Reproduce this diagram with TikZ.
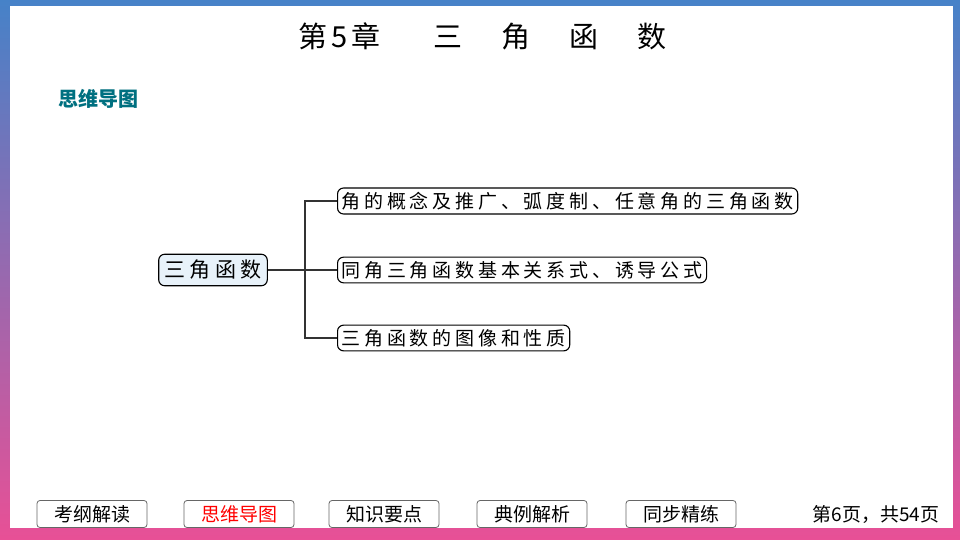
\documentclass[tikz,border=0pt]{standalone}
\usepackage{fontspec}
\setmainfont{Noto Sans CJK SC}
\newfontfamily\spaced[LetterSpace=20]{Noto Sans CJK SC}
\usetikzlibrary{positioning}

\definecolor{tealhead}{RGB}{0,112,128}
\definecolor{rootfill}{RGB}{232,242,250}
\definecolor{barblue}{RGB}{70,130,200}
\definecolor{barpink}{RGB}{232,80,150}

\tikzset{
  topic/.style={draw,line width=1.1pt,rounded corners=6pt,inner sep=4pt,font=\spaced\fontsize{19}{19}\selectfont},
  root/.style={topic,fill=rootfill,inner sep=6pt,font=\spaced\fontsize{21}{21}\selectfont},
  tab/.style={draw=gray!80!black,thick,rounded corners=3pt,minimum width=110pt,minimum height=27pt,inner sep=0pt,font=\fontsize{19}{19}\selectfont},
  branch/.style={line width=1.3pt,draw=black!80}
}

\begin{document}
\begin{tikzpicture}[x=1pt,y=-1pt]
  % frame
  \shade[top color=barblue,bottom color=barpink] (0,0) rectangle (960,540);
  \fill[white] (10,6) rectangle (953,528);
  \useasboundingbox (0,0) rectangle (960,540);

  \node[anchor=west,inner sep=0pt] (title) at (298,36) {\fontsize{29}{29}\selectfont 第\hspace{4pt}5\hspace{4pt}章\hspace{53pt}三\hspace{39pt}角\hspace{39pt}函\hspace{39pt}数};
  \node[anchor=west,text=tealhead,font=\bfseries\fontsize{20}{20}\selectfont] (head) at (55,99) {思维导图};

  % mind map
  \node[root] (trig) at (213,270) {三角函数};
  \node[topic,anchor=west] (b1) at (337,201) {角的概念及推广、弧度制、任意角的三角函数};
  \node[topic,anchor=west] (b2) at (337,270) {同角三角函数基本关系式、诱导公式};
  \node[topic,anchor=west] (b3) at (337,338) {三角函数的图像和性质};
  \coordinate (fork) at (305,270);
  \draw[branch] (trig) -- (fork) -- (b2);
  \draw[branch] (fork) |- (b1);
  \draw[branch] (fork) |- (b3);

  % bottom tabs
  \node[tab] (t1) at (92,514) {考纲解读};
  \node[tab,text=red] (t2) at (239,514) {思维导图};
  \node[tab] (t3) at (384,514) {知识要点};
  \node[tab] (t4) at (532,514) {典例解析};
  \node[tab] (t5) at (681,514) {同步精练};
  \node[anchor=east,font=\fontsize{19}{19}\selectfont] (page) at (943,514) {第6页，共54页};
\end{tikzpicture}
\end{document}
